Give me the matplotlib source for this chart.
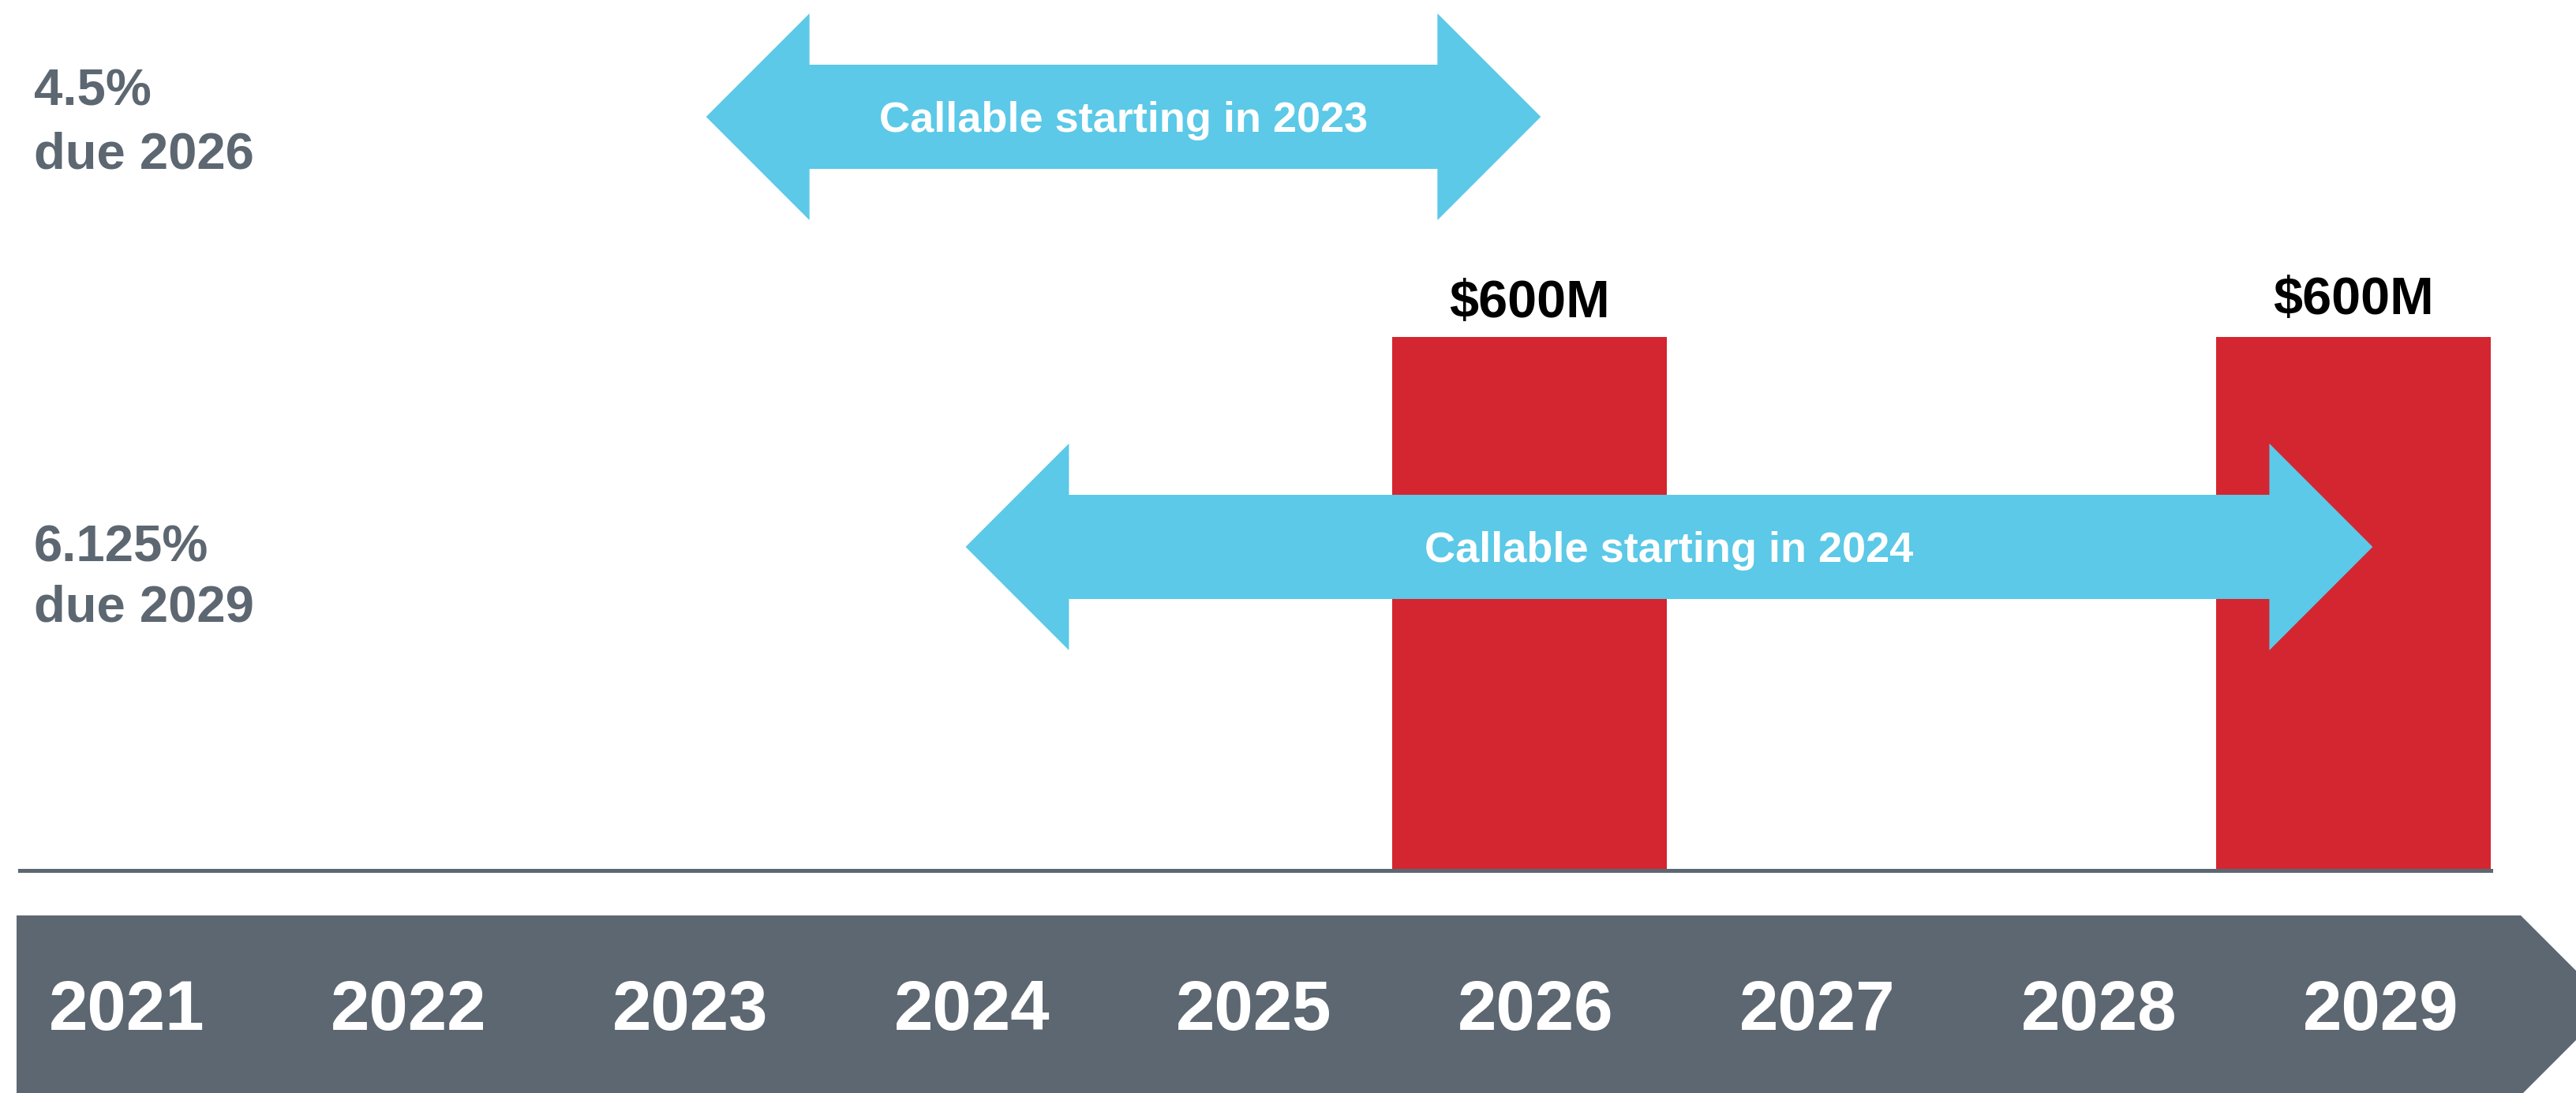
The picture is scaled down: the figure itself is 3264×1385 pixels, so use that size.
import numpy as np
import matplotlib.pyplot as plt
from matplotlib.patches import Polygon

plt.rcParams['font.family'] = ['Liberation Sans', 'DejaVu Sans']
plt.rcParams['font.weight'] = 'bold'

# data
years = ['2021', '2022', '2023', '2024', '2025', '2026', '2027', '2028', '2029']
notes = ['4.5%\ndue 2026', '6.125%\ndue 2029']
maturity = ['2026', '2029']
amounts = [600, 600]
amount_labels = ['$600M', '$600M']
call_start = ['2023', '2024']
call_labels = ['Callable starting in 2023', 'Callable starting in 2024']

gray = '#5c6771'
red = '#d42631'
blue = '#5bc9e7'

W, H = 3264, 1385
fig = plt.figure(figsize=(W / 100, H / 100), dpi=100)

# pixel overlay for the timeline band and side labels
ov = fig.add_axes([0, 0, 1, 1])
ov.set_xlim(0, W)
ov.set_ylim(H, 0)
ov.axis('off')

band = Polygon([(21, 1160), (3194, 1160), (3308, 1274), (3194, 1388), (21, 1388)],
               closed=True, facecolor=gray, edgecolor='none')
ov.add_patch(band)
for i, y in enumerate(years):
    ov.text(161 + 357 * i, 1305, y, color='white', fontsize=64, fontweight='bold',
            ha='center', va='baseline')

# note labels on the left, two lines each
note_baselines = [(133, 213), (711, 788)]
for txt, (b1, b2) in zip(notes, note_baselines):
    l1, l2 = txt.split('\n')
    ov.text(43, b1, l1, color=gray, fontsize=47, fontweight='bold', va='baseline')
    ov.text(43, b2, l2, color=gray, fontsize=47, fontweight='bold', va='baseline')

# bar chart area
ax = fig.add_axes([25 / W, (H - 1103) / H, (3156 - 25) / W, 1103 / H])
ax.set_xlim(-0.5, len(years) - 0.5)
ytop = 600 * 1103 / 676
ax.set_ylim(0, ytop)
ax.axis('off')
ax.set_zorder(2)
ax.patch.set_visible(False)

xpos = [years.index(m) for m in maturity]
ax.bar(xpos, amounts, width=1.0, color=red, zorder=1)
label_off = [18, 21]
for x, v, lab, off in zip(xpos, amounts, amount_labels, label_off):
    ax.annotate(lab, (x, v), xytext=(0, off), textcoords='offset points',
                ha='center', va='baseline', fontsize=48, fontweight='bold', color='black')
ax.axhline(0, color=gray, lw=3.6, zorder=3, clip_on=False)

# double arrows for call windows
px = ytop / 1103  # data units per pixel vertically
head_len = 131 / 348
shaft_h = 66 * px
head_h = 131 * px
arrow_y = [(1103 - 148) * px, (1103 - 693) * px]
pads = [(0.0, 0.04), (0.055, 0.07)]
for s, e, yc, lab, (pl, pr) in zip(call_start, maturity, arrow_y, call_labels, pads):
    x0, x1 = years.index(s) - pl, years.index(e) + pr
    pts = [(x0, yc), (x0 + head_len, yc + head_h), (x0 + head_len, yc + shaft_h),
           (x1 - head_len, yc + shaft_h), (x1 - head_len, yc + head_h), (x1, yc),
           (x1 - head_len, yc - head_h), (x1 - head_len, yc - shaft_h),
           (x0 + head_len, yc - shaft_h), (x0 + head_len, yc - head_h)]
    ax.add_patch(Polygon(pts, closed=True, facecolor=blue, edgecolor='none',
                         zorder=4, clip_on=False))
    ax.annotate(lab, ((x0 + x1) / 2, yc), xytext=(0, -14), textcoords='offset points',
                ha='center', va='baseline', fontsize=39, fontweight='bold',
                color='white', zorder=5)

fig.savefig('out.png', dpi=100)
